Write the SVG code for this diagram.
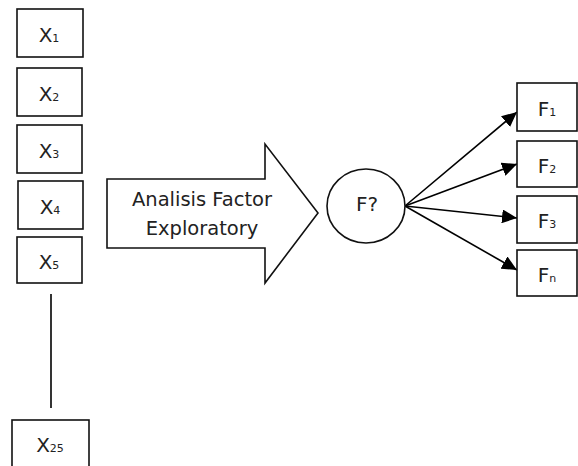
<svg xmlns="http://www.w3.org/2000/svg" width="578" height="466" viewBox="0 0 578 466">
<style>
.box{fill:#fff;stroke:#111;stroke-width:1.6}
.lbl{font-family:"DejaVu Sans","Liberation Sans",sans-serif;font-size:20px;fill:#222;text-anchor:middle}
.sub{font-size:11px}
.big{font-family:"DejaVu Sans","Liberation Sans",sans-serif;font-size:19.5px;fill:#222;text-anchor:middle}
.con{stroke:#000;stroke-width:1.6;fill:none}
</style>
<defs>
<marker id="ah" markerUnits="userSpaceOnUse" markerWidth="16" markerHeight="14" refX="15" refY="7" orient="auto">
<path d="M0,0 L15,7 L0,14 z" fill="#000"/>
</marker>
</defs>
<rect width="578" height="466" fill="#fff"/>
<g id="connectors">
<line class="con" x1="51" y1="294" x2="51" y2="408" stroke-width="2"/>
<line class="con" x1="405" y1="206" x2="517" y2="112" marker-end="url(#ah)"/>
<line class="con" x1="405" y1="206" x2="517" y2="164" marker-end="url(#ah)"/>
<line class="con" x1="405" y1="206" x2="517" y2="218" marker-end="url(#ah)"/>
<line class="con" x1="405" y1="206" x2="517" y2="270" marker-end="url(#ah)"/>
</g>
<g id="x1"><rect class="box" x="17" y="9" width="66" height="48"/><text class="lbl" x="49" y="42">X<tspan class="sub">1</tspan></text></g>
<g id="x2"><rect class="box" x="17" y="68" width="65" height="48"/><text class="lbl" x="49" y="101">X<tspan class="sub">2</tspan></text></g>
<g id="x3"><rect class="box" x="17" y="125" width="65" height="48"/><text class="lbl" x="49" y="158">X<tspan class="sub">3</tspan></text></g>
<g id="x4"><rect class="box" x="18" y="181" width="65" height="48"/><text class="lbl" x="50" y="214">X<tspan class="sub">4</tspan></text></g>
<g id="x5"><rect class="box" x="17" y="237" width="65" height="46"/><text class="lbl" x="49" y="269">X<tspan class="sub">5</tspan></text></g>
<g id="x25"><rect class="box" x="12" y="420" width="77" height="50"/><text class="lbl" x="50" y="452">X<tspan class="sub">25</tspan></text></g>
<g id="efa">
<polygon class="box" points="107,179 265,179 265,144 318,213 265,283 265,248 107,248"/>
<text class="big" x="202" y="206">Analisis Factor</text>
<text class="big" x="202" y="235">Exploratory</text>
</g>
<g id="fq"><ellipse class="box" cx="366" cy="206" rx="39" ry="37"/><text class="lbl" x="367" y="211" font-size="19">F?</text></g>
<g id="f1"><rect class="box" x="517" y="83" width="60" height="48"/><text class="lbl" x="547" y="116">F<tspan class="sub">1</tspan></text></g>
<g id="f2"><rect class="box" x="517" y="141" width="60" height="46"/><text class="lbl" x="547" y="173">F<tspan class="sub">2</tspan></text></g>
<g id="f3"><rect class="box" x="517" y="196" width="60" height="47"/><text class="lbl" x="547" y="228">F<tspan class="sub">3</tspan></text></g>
<g id="fn"><rect class="box" x="517" y="250" width="60" height="46"/><text class="lbl" x="547" y="282">F<tspan class="sub">n</tspan></text></g>
</svg>
